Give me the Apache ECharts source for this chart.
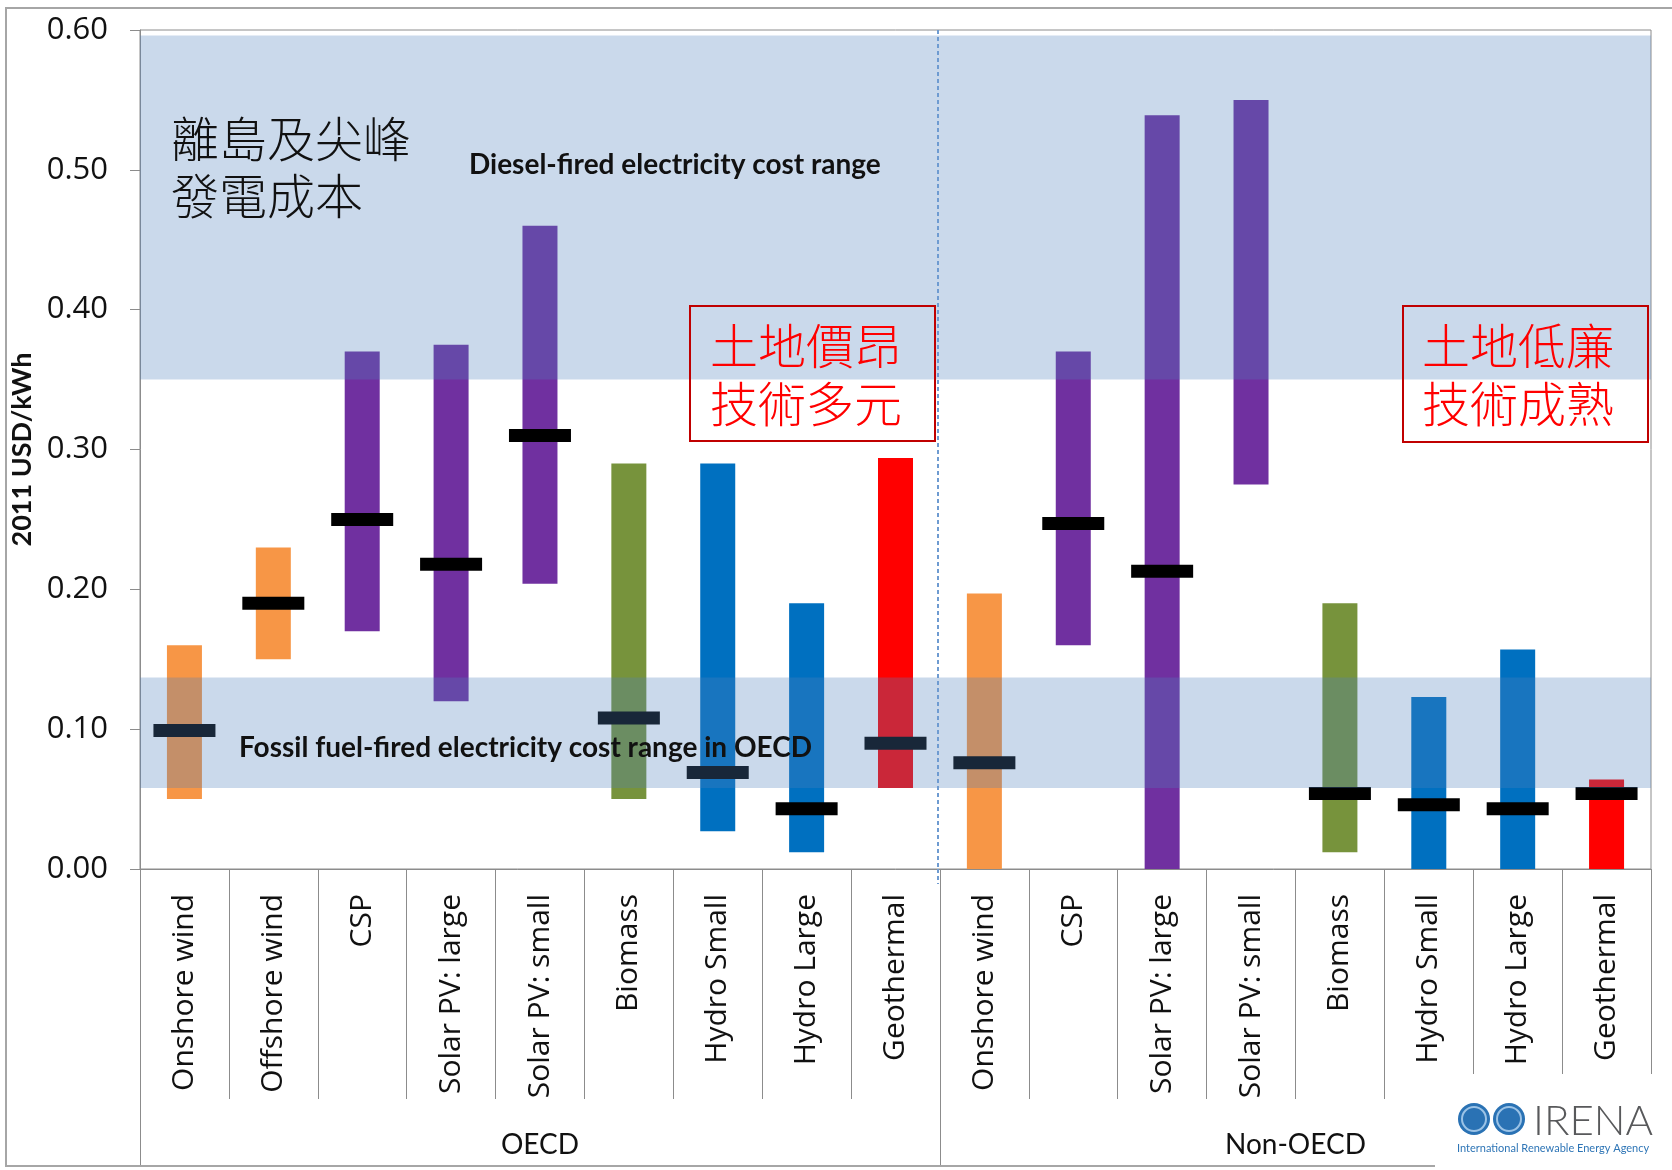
<!DOCTYPE html>
<html>
<head>
<meta charset="utf-8">
<title>LCOE ranges OECD / Non-OECD</title>
<script src="https://cdn.jsdelivr.net/npm/echarts@6/dist/echarts.min.js"></script>
<style>
  html, body { margin: 0; padding: 0; background: #ffffff; }
  #chart { width: 1672px; height: 1170px; }
</style>
</head>
<body>
<div id="chart"></div>
<script>
// Technologies, OECD first (9) then Non-OECD (8)
const categories = [
  'Onshore wind', 'Offshore wind', 'CSP', 'Solar PV: large', 'Solar PV: small',
  'Biomass', 'Hydro Small', 'Hydro Large', 'Geothermal',
  'Onshore wind', 'CSP', 'Solar PV: large', 'Solar PV: small',
  'Biomass', 'Hydro Small', 'Hydro Large', 'Geothermal'
];
const groups = ['OECD', 'Non-OECD'];
const groupSizes = [9, 8];

// LCOE range, 2011 USD/kWh
const costLow  = [0.050, 0.150, 0.170, 0.120, 0.204, 0.050, 0.027, 0.012, 0.058,
                  0.000, 0.160, 0.000, 0.275, 0.012, 0.000, 0.000, 0.000];
const costHigh = [0.160, 0.230, 0.370, 0.375, 0.460, 0.290, 0.290, 0.190, 0.294,
                  0.197, 0.370, 0.539, 0.550, 0.190, 0.123, 0.157, 0.064];
// weighted average (no value for Non-OECD small PV)
const costAvg  = [0.099, 0.190, 0.250, 0.218, 0.310, 0.108, 0.069, 0.043, 0.090,
                  0.076, 0.247, 0.213, null, 0.054, 0.046, 0.043, 0.054];

// Reference cost bands
const dieselBand = [0.350, 0.596];
const fossilBand = [0.058, 0.137];

const techColors = {
  'Onshore wind': '#F79646', 'Offshore wind': '#F79646',
  'CSP': '#7030A0', 'Solar PV: large': '#7030A0', 'Solar PV: small': '#7030A0',
  'Biomass': '#77933C', 'Hydro Small': '#0070C0', 'Hydro Large': '#0070C0',
  'Geothermal': '#FF0000'
};

const chart = echarts.init(document.getElementById('chart'), null, { renderer: 'canvas' });

const rangeData = categories.map((c, i) => [i, costLow[i], costHigh[i]]);
const avgData = costAvg.map((v, i) => (v == null ? null : [i, v])).filter(Boolean);
const groupCenters = [groupSizes[0] / 2, groupSizes[0] + groupSizes[1] / 2];

const AXIS_GRAY = '#8c8c8c';
const DIVIDER_BLUE = '#6E9BD1';
const LATIN = 'Open Sans';
const CALI = 'Lato';
const CJK = '"Noto Sans CJK TC"';

chart.setOption({
  backgroundColor: '#ffffff',
  animation: false,
  grid: {
    left: 140, right: 21, top: 30, bottom: 301,
    show: true, borderColor: AXIS_GRAY, borderWidth: 1, backgroundColor: 'transparent'
  },
  xAxis: [
    {
      type: 'category', data: categories, position: 'bottom',
      boundaryGap: true,
      axisLine: { lineStyle: { color: AXIS_GRAY, width: 1 } },
      axisTick: { show: true, length: 230, alignWithLabel: false, lineStyle: { color: AXIS_GRAY } },
      axisLabel: {
        rotate: 90, margin: 25, interval: 0,
        fontFamily: LATIN, fontSize: 30, color: '#111111'
      },
      splitLine: { show: false }
    },
    {
      // group separators and group names
      type: 'value', min: 0, max: categories.length, position: 'bottom',
      axisLine: { show: false },
      axisTick: { show: true, length: 297, customValues: [0, groupSizes[0]], lineStyle: { color: AXIS_GRAY } },
      axisLabel: {
        show: true, customValues: groupCenters, margin: 262,
        formatter: (v) => groups[groupCenters.indexOf(v)] || '',
        fontFamily: CALI, fontSize: 28, color: '#111111'
      },
      splitLine: { show: false }
    },
    {
      // short dashed stub of the region divider below the axis
      type: 'value', min: 0, max: categories.length, position: 'bottom',
      axisLine: { show: false },
      axisTick: { show: true, length: 15, customValues: [groupSizes[0] - 0.03],
        lineStyle: { color: DIVIDER_BLUE, width: 2, type: [4, 3] } },
      axisLabel: { show: false },
      splitLine: { show: false }
    }
  ],
  yAxis: {
    type: 'value', min: 0, max: 0.6, interval: 0.1,
    name: '2011 USD/kWh', nameLocation: 'middle', nameRotate: 90, nameGap: 93,
    nameTextStyle: { fontFamily: CALI, fontWeight: 'bold', fontSize: 27, color: '#111111' },
    axisLine: { show: true, lineStyle: { color: AXIS_GRAY, width: 1 } },
    axisTick: { show: true, length: 10, lineStyle: { color: AXIS_GRAY } },
    axisLabel: {
      margin: 32, fontFamily: LATIN, fontSize: 31, color: '#111111',
      formatter: (v) => v.toFixed(2)
    },
    splitLine: { show: false }
  },
  series: [
    {
      name: 'range', type: 'custom', xAxisIndex: 0, yAxisIndex: 0, z: 2,
      data: rangeData,
      encode: { x: 0, y: [1, 2] },
      renderItem: (params, api) => {
        const i = api.value(0);
        const lo = api.coord([i, api.value(1)]);
        const hi = api.coord([i, api.value(2)]);
        const w = 35;
        return {
          type: 'rect',
          shape: { x: lo[0] - w / 2, y: hi[1], width: w, height: lo[1] - hi[1] },
          style: { fill: techColors[categories[i]] }
        };
      }
    },
    {
      name: 'average', type: 'scatter', xAxisIndex: 0, yAxisIndex: 0, z: 3,
      symbol: 'rect', symbolSize: [62, 13],
      itemStyle: { color: '#000000', opacity: 1 },
      data: avgData
    },
    {
      // translucent cost bands drawn over the bars
      name: 'bands', type: 'line', xAxisIndex: 0, yAxisIndex: 0, data: [],
      markArea: {
        silent: true, z: 10,
        itemStyle: { color: 'rgba(79,129,189,0.3)' },
        data: [
          [{ yAxis: dieselBand[0] }, { yAxis: dieselBand[1] }],
          [{ yAxis: fossilBand[0] }, { yAxis: fossilBand[1] }]
        ]
      }
    },
    {
      // OECD / Non-OECD divider
      name: 'divider', type: 'line', xAxisIndex: 2, yAxisIndex: 0, data: [],
      markLine: {
        silent: true, z: 11, symbol: 'none', label: { show: false },
        lineStyle: { color: DIVIDER_BLUE, width: 2, type: [4, 3] },
        data: [[{ coord: [groupSizes[0] - 0.03, 0.6] }, { coord: [groupSizes[0] - 0.03, 0] }]]
      }
    }
  ],
  graphic: [
    // slide frame
    { type: 'rect', z: 1, shape: { x: 6, y: 8, width: 1700, height: 1158 },
      style: { fill: 'none', stroke: '#a6a6a6', lineWidth: 2 } },
    // band captions
    { type: 'text', z: 100, x: 469, y: 165,
      style: { text: 'Diesel-fired electricity cost range', fontFamily: CALI, fontWeight: 'bold',
        fontSize: 28, fill: '#111111', verticalAlign: 'middle' } },
    { type: 'text', z: 100, x: 239, y: 748,
      style: { text: 'Fossil fuel-fired electricity cost range in OECD', fontFamily: CALI, fontWeight: 'bold',
        fontSize: 28, fill: '#111111', verticalAlign: 'middle' } },
    // Chinese annotations
    { type: 'text', z: 100, x: 171, y: 139,
      style: { text: '離島及尖峰', fontFamily: CJK, fontWeight: 300, fontSize: 48, fill: '#111111', verticalAlign: 'middle' } },
    { type: 'text', z: 100, x: 171, y: 196,
      style: { text: '發電成本', fontFamily: CJK, fontWeight: 300, fontSize: 48, fill: '#111111', verticalAlign: 'middle' } },
    { type: 'rect', z: 100, shape: { x: 690, y: 306, width: 245, height: 135 },
      style: { fill: 'none', stroke: '#C00000', lineWidth: 2 } },
    { type: 'text', z: 100, x: 806, y: 346,
      style: { text: '土地價昂', fontFamily: CJK, fontWeight: 300, fontSize: 48, fill: '#FF0000', align: 'center', verticalAlign: 'middle' } },
    { type: 'text', z: 100, x: 806, y: 404,
      style: { text: '技術多元', fontFamily: CJK, fontWeight: 300, fontSize: 48, fill: '#FF0000', align: 'center', verticalAlign: 'middle' } },
    { type: 'rect', z: 100, shape: { x: 1403, y: 306, width: 245, height: 136 },
      style: { fill: 'none', stroke: '#C00000', lineWidth: 2 } },
    { type: 'text', z: 100, x: 1518, y: 346,
      style: { text: '土地低廉', fontFamily: CJK, fontWeight: 300, fontSize: 48, fill: '#FF0000', align: 'center', verticalAlign: 'middle' } },
    { type: 'text', z: 100, x: 1518, y: 404,
      style: { text: '技術成熟', fontFamily: CJK, fontWeight: 300, fontSize: 48, fill: '#FF0000', align: 'center', verticalAlign: 'middle' } },
    // IRENA logo
    { type: 'rect', z: 50, shape: { x: 1435, y: 1074, width: 240, height: 100 }, style: { fill: '#ffffff' } },
    { type: 'circle', z: 51, shape: { cx: 1474, cy: 1119, r: 16 }, style: { fill: '#2A72B4' } },
    { type: 'circle', z: 51, shape: { cx: 1509, cy: 1119, r: 16 }, style: { fill: '#2A72B4' } },
    { type: 'circle', z: 52, shape: { cx: 1474, cy: 1119, r: 12 }, style: { fill: 'none', stroke: '#9cc3e6', lineWidth: 2 } },
    { type: 'circle', z: 52, shape: { cx: 1509, cy: 1119, r: 12 }, style: { fill: 'none', stroke: '#9cc3e6', lineWidth: 2 } },
    { type: 'text', z: 52, x: 1533, y: 1121,
      style: { text: 'IRENA', fontFamily: CALI, fontWeight: 300, fontSize: 42, fill: '#58595B', verticalAlign: 'middle' } },
    { type: 'text', z: 52, x: 1457, y: 1148,
      style: { text: 'International Renewable Energy Agency', fontFamily: CALI, fontSize: 11, fill: '#2E75B6', verticalAlign: 'middle' } }
  ]
});
</script>
</body>
</html>
